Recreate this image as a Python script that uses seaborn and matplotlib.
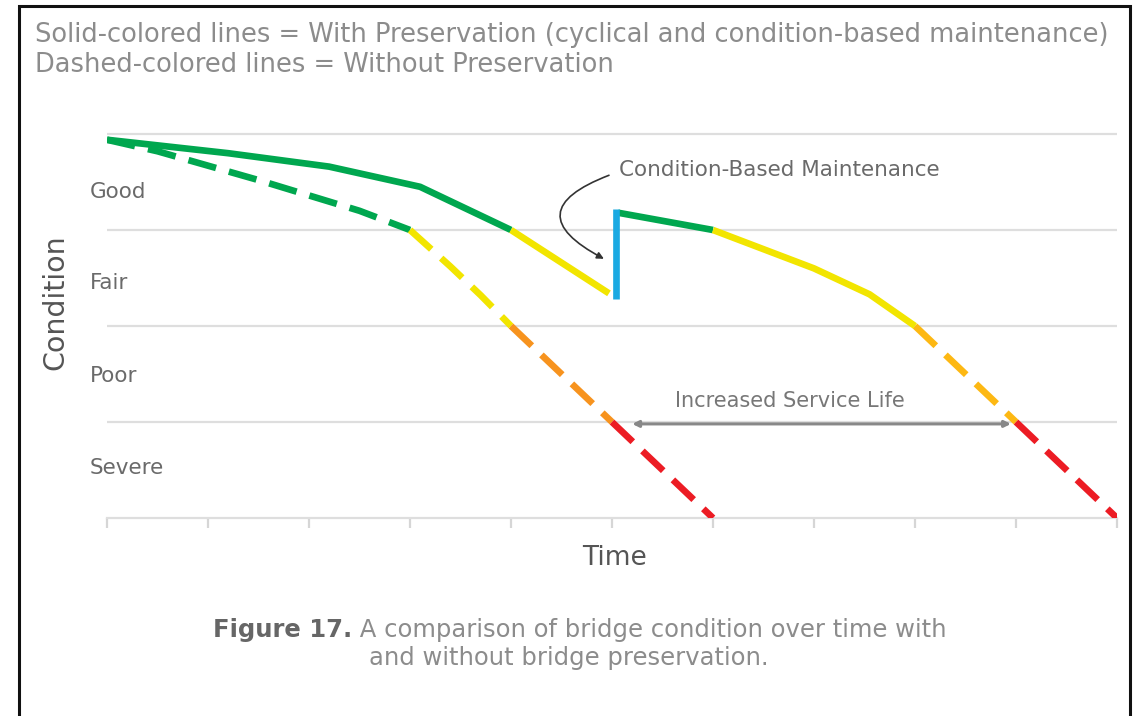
import matplotlib
matplotlib.use("Agg")
import matplotlib.pyplot as plt
from matplotlib.patches import Rectangle
import seaborn as sns

# ---- data (time in ticks 0..10, condition 0 = bottom of Severe, 4 = top of Good)
band_labels = ["Severe", "Poor", "Fair", "Good"]
band_label_y = [0.52, 1.48, 2.45, 3.4]
time_ticks = list(range(11))

# with preservation (solid), split by colour
with_green1_x = [0.0, 1.2, 2.2, 3.1, 4.0]
with_green1_y = [3.94, 3.80, 3.66, 3.45, 3.0]
with_yellow1_x = [4.0, 4.97]
with_yellow1_y = [3.0, 2.34]
maint_x = [5.04, 5.04]
maint_y = [2.28, 3.22]
with_green2_x = [5.06, 6.0]
with_green2_y = [3.18, 3.0]
with_yellow2_x = [6.0, 7.0, 7.55, 8.0]
with_yellow2_y = [3.0, 2.6, 2.33, 2.0]
with_orange_x = [8.0, 9.0]
with_orange_y = [2.0, 1.0]
with_red_x = [9.0, 10.0]
with_red_y = [1.0, 0.0]

# without preservation (dashed)
without_green_x = [0.0, 0.5, 1.5, 2.5, 3.0]
without_green_y = [3.94, 3.82, 3.52, 3.2, 3.0]
without_yellow_x = [3.0, 3.4, 3.7, 4.0]
without_yellow_y = [3.0, 2.62, 2.32, 2.0]
without_orange_x = [4.0, 5.0]
without_orange_y = [2.0, 1.0]
without_red_x = [5.0, 6.0]
without_red_y = [1.0, 0.0]

GREEN = "#00a74f"
YELLOW = "#f2e500"
ORANGE_L = "#f7931e"
ORANGE_R = "#fdb813"
RED = "#ec1c24"
BLUE = "#1aa9e2"

sns.set_style("white")
plt.rcParams['font.family'] = ['DejaVu Sans']

fig = plt.figure(figsize=(11.45, 7.16), dpi=100)
ax = fig.add_axes([107 / 1145, 1 - 518 / 716, 1010 / 1145, (4.1 * 96) / 716])

LW = 4.8
DASH = (0, (4.3, 2.0))

solid = [
    (with_green1_x, with_green1_y, GREEN),
    (with_yellow1_x, with_yellow1_y, YELLOW),
    (with_green2_x, with_green2_y, GREEN),
    (with_yellow2_x, with_yellow2_y, YELLOW),
]
dashed = [
    (without_green_x, without_green_y, GREEN),
    (without_yellow_x, without_yellow_y, YELLOW),
    (without_orange_x, without_orange_y, ORANGE_L),
    (without_red_x, without_red_y, RED),
    (with_orange_x, with_orange_y, ORANGE_R),
    (with_red_x, with_red_y, RED),
]

for xs, ys, c in dashed:
    sns.lineplot(x=xs, y=ys, ax=ax, color=c, linewidth=LW, linestyle=DASH,
                 estimator=None, sort=False, dash_capstyle='butt', zorder=3)
for xs, ys, c in solid:
    sns.lineplot(x=xs, y=ys, ax=ax, color=c, linewidth=LW,
                 estimator=None, sort=False, solid_capstyle='butt', zorder=4)
sns.lineplot(x=maint_x, y=maint_y, ax=ax, color=BLUE, linewidth=LW,
             estimator=None, sort=False, solid_capstyle='butt', zorder=5)

# axes styling
ax.set_xlim(0, 10)
ax.set_ylim(0, 4.1)
for g in [1, 2, 3, 4]:
    ax.axhline(g, color="#dedede", lw=1.6, zorder=1)
for s in ["left", "right", "top"]:
    ax.spines[s].set_visible(False)
ax.spines["bottom"].set_color("#dedede")
ax.spines["bottom"].set_linewidth(1.6)
ax.set_xticks(time_ticks)
ax.set_xticklabels([])
ax.tick_params(axis="x", direction="out", length=7, width=1.6, color="#d6d6d6", bottom=True)
ax.set_yticks([])
ax.set_xlabel("")
ax.set_ylabel("")

for lab, yy in zip(band_labels, band_label_y):
    ax.text(-0.017, yy, lab, transform=ax.get_yaxis_transform(), ha="left", va="center",
            fontsize=15.5, color="#6a6a6a", zorder=6)

# condition-based maintenance callout
ax.text(5.07, 3.63, "Condition-Based Maintenance", ha="left", va="center",
        fontsize=15.5, color="#6a6a6a")
ax.annotate("", xy=(4.92, 2.7), xytext=(4.97, 3.57),
            arrowprops=dict(arrowstyle="-|>", connectionstyle="arc3,rad=1.1",
                            color="#333333", lw=1.2, mutation_scale=10,
                            shrinkA=0, shrinkB=0))

# increased service life
ax.annotate("", xy=(5.2, 0.98), xytext=(8.95, 0.98),
            arrowprops=dict(arrowstyle="<|-|>", color="#888888", lw=2.2,
                            mutation_scale=9, shrinkA=0, shrinkB=0), zorder=6)
ax.text(6.76, 1.22, "Increased Service Life", ha="center", va="center",
        fontsize=15, color="#777777")

# figure texts
head1 = fig.text(35 / 1145, 1 - 35 / 716,
                 "Solid-colored lines = With Preservation (cyclical and condition-based maintenance)",
                 ha="left", va="center", fontsize=18.5, color="#8c8c8c")
fig.text(35 / 1145, 1 - 65 / 716, "Dashed-colored lines = Without Preservation",
         ha="left", va="center", fontsize=18.5, color="#8c8c8c")
fig.text(55 / 1145, 1 - 302 / 716, "Condition", rotation=90, ha="center", va="center",
         fontsize=20.5, color="#555555")
fig.text(615 / 1145, 1 - 558 / 716, "Time", ha="center", va="center",
         fontsize=19, color="#555555")

# caption with bold prefix
renderer = fig.canvas.get_renderer()
cap_y = 1 - 630 / 716
t1 = fig.text(0, cap_y, "Figure 17.", ha="left", va="center", fontsize=17.5,
              fontweight="bold", color="#666666")
t2 = fig.text(0, cap_y, " A comparison of bridge condition over time with", ha="left",
              va="center", fontsize=17.5, color="#8c8c8c")
w1 = t1.get_window_extent(renderer).width
w2 = t2.get_window_extent(renderer).width
x0 = 580 - (w1 + w2) / 2
t1.set_x(x0 / 1145)
t2.set_x((x0 + w1) / 1145)
fig.text(569 / 1145, 1 - 658 / 716, "and without bridge preservation.", ha="center",
         va="center", fontsize=17.5, color="#8c8c8c")

# outer frame
frame = Rectangle((19 / 1145, -0.1), (1130 - 19) / 1145, 1.1 - 6 / 716,
                  transform=fig.transFigure, fill=False, edgecolor="#111111", lw=2.2)
fig.patches.append(frame)
head1.set_clip_path(frame)

fig.savefig("out.png", dpi=100)
